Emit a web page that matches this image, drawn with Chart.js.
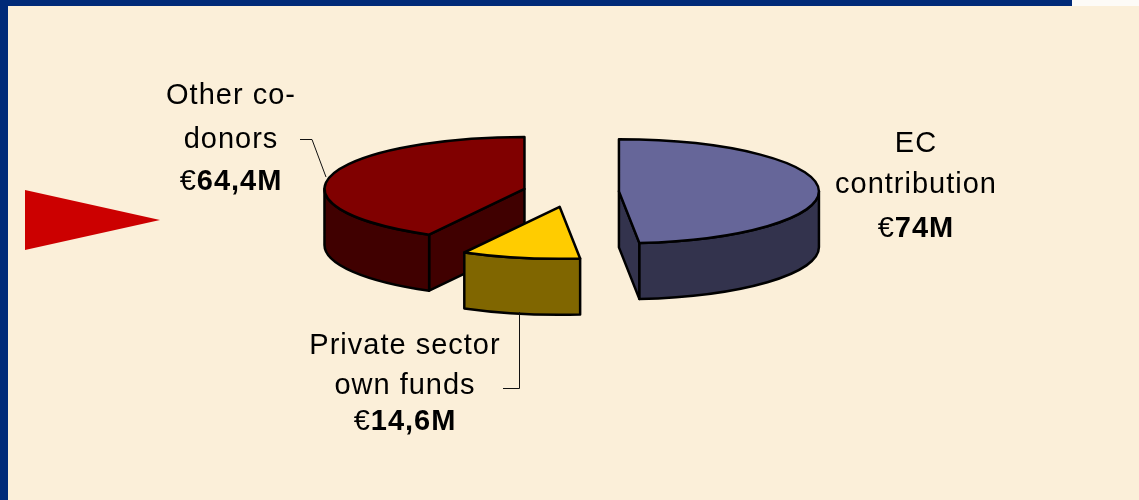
<!DOCTYPE html>
<html>
<head>
<meta charset="utf-8">
<script src="https://cdn.jsdelivr.net/npm/chart.js@4.4.1/dist/chart.umd.min.js"></script>
<style>
html, body { margin: 0; padding: 0; background: #fbefd9; }
canvas { display: block; }
</style>
</head>
<body>
<canvas id="pie" width="1139" height="500"></canvas>
<script>
// data, in Excel's order (clockwise from 12 o'clock)
var labels = ['EC contribution', 'Private sector own funds', 'Other co-donors'];
var values = [74, 14.6, 64.4];
var valueText = ['74M', '14,6M', '64,4M'];
var labelLines = [['EC', 'contribution'], ['Private sector', 'own funds'], ['Other co-', 'donors']];

var topColors = ['#666699', '#ffcc00', '#800000'];
var sideColors = ['#33334d', '#806600', '#400000'];

var tilt = 0.26;   // vertical squash of the pie
var depth = 56;    // thickness of the pie

// where the data labels sit (Excel placed them by hand)
var labelLayout = [
    {x: 916, y: [152, 193, 237]},
    {x: 405, y: [354, 394, 430]},
    {x: 231, y: [104, 148, 190]}
];
var leaderLines = [
    null,
    [[503, 388.5], [519.5, 388.5], [519.5, 312]],
    [[300, 139.5], [312, 139.5], [326, 177]]
];

function ept(s, a, dy) {
    return [s.cx + s.r * Math.cos(a), s.cy + (dy || 0) + s.r * tilt * Math.sin(a)];
}

function radialFace(ctx, s, a, color) {
    var p = ept(s, a), q = ept(s, a, depth);
    ctx.beginPath();
    ctx.moveTo(s.cx, s.cy);
    ctx.lineTo(p[0], p[1]);
    ctx.lineTo(q[0], q[1]);
    ctx.lineTo(s.cx, s.cy + depth);
    ctx.closePath();
    ctx.fillStyle = color;
    ctx.fill();
    ctx.stroke();
}

function outerWall(ctx, s, color) {
    // only the front half of the rim can be seen
    var b0 = Math.max(s.a0, 0), b1 = Math.min(s.a1, Math.PI);
    if (b1 <= b0) return;
    ctx.beginPath();
    ctx.ellipse(s.cx, s.cy, s.r, s.r * tilt, 0, b0, b1);
    ctx.ellipse(s.cx, s.cy + depth, s.r, s.r * tilt, 0, b1, b0, true);
    ctx.closePath();
    ctx.fillStyle = color;
    ctx.fill();
    ctx.stroke();
}

function topFace(ctx, s, color) {
    ctx.beginPath();
    ctx.moveTo(s.cx, s.cy);
    ctx.ellipse(s.cx, s.cy, s.r, s.r * tilt, 0, s.a0, s.a1);
    ctx.closePath();
    ctx.fillStyle = color;
    ctx.fill();
    ctx.stroke();
}

const backdrop = {
    id: 'backdrop',
    beforeDraw(chart) {
        const ctx = chart.ctx;
        ctx.save();
        ctx.fillStyle = '#fbefd9';
        ctx.fillRect(0, 0, chart.width, chart.height);
        ctx.fillStyle = '#fdfbf7';
        ctx.fillRect(1072, 0, chart.width - 1072, 6);
        ctx.fillStyle = '#002a78';
        ctx.fillRect(0, 0, 1072, 6);
        ctx.fillRect(0, 0, 8, chart.height);
        // red pointer on the left
        ctx.fillStyle = '#cc0000';
        ctx.beginPath();
        ctx.moveTo(25, 190);
        ctx.lineTo(160, 220);
        ctx.lineTo(25, 250);
        ctx.closePath();
        ctx.fill();
        ctx.restore();
    }
};

const pie3d = {
    id: 'pie3d',
    beforeDatasetsDraw(chart) {
        const ctx = chart.ctx;
        const meta = chart.getDatasetMeta(0);
        var slices = meta.data.map(function (arc, i) {
            var mid = (arc.startAngle + arc.endAngle) / 2;
            var d = arc.options.offset || 0;
            return {
                i: i, a0: arc.startAngle, a1: arc.endAngle, r: arc.outerRadius,
                cx: arc.x + Math.cos(mid) * d,
                cy: arc.y + Math.sin(mid) * d * tilt
            };
        });
        // back slices first
        slices.sort(function (p, q) { return p.cy - q.cy; });
        ctx.save();
        ctx.lineWidth = 2.5;
        ctx.strokeStyle = '#000';
        ctx.lineJoin = 'round';
        slices.forEach(function (s) {
            if (Math.cos(s.a0) < -0.01) radialFace(ctx, s, s.a0, sideColors[s.i]);
            if (Math.cos(s.a1) > 0.01) radialFace(ctx, s, s.a1, sideColors[s.i]);
            outerWall(ctx, s, sideColors[s.i]);
            topFace(ctx, s, topColors[s.i]);
        });
        ctx.restore();
        return false;
    },
    afterDraw(chart) {
        const ctx = chart.ctx;
        ctx.save();
        ctx.fillStyle = '#000';
        ctx.textBaseline = 'alphabetic';
        ctx.letterSpacing = '1px';
        labelLines.forEach(function (lines, i) {
            var pos = labelLayout[i];
            ctx.font = '29px "Liberation Sans", Arial, sans-serif';
            ctx.textAlign = 'center';
            lines.forEach(function (t, j) {
                ctx.fillText(t, pos.x, pos.y[j]);
            });
            // value line: regular euro sign, bold number
            ctx.textAlign = 'left';
            var euroFont = '29px "Liberation Sans", Arial, sans-serif';
            var boldFont = 'bold 29px "Liberation Sans", Arial, sans-serif';
            ctx.font = euroFont;
            var w1 = ctx.measureText('€').width;
            ctx.font = boldFont;
            var w2 = ctx.measureText(valueText[i]).width;
            var x0 = pos.x - (w1 + w2) / 2;
            ctx.font = euroFont;
            ctx.fillText('€', x0, pos.y[lines.length]);
            ctx.font = boldFont;
            ctx.fillText(valueText[i], x0 + w1, pos.y[lines.length]);
        });
        // leader lines
        ctx.strokeStyle = '#111';
        ctx.lineWidth = 1;
        leaderLines.forEach(function (pts) {
            if (!pts) return;
            ctx.beginPath();
            ctx.moveTo(pts[0][0], pts[0][1]);
            for (var k = 1; k < pts.length; k++) ctx.lineTo(pts[k][0], pts[k][1]);
            ctx.stroke();
        });
        ctx.restore();
    }
};

var ctx = document.getElementById('pie').getContext('2d');
window.PieChart = new Chart(ctx, {
    type: 'pie',
    data: {
        labels: labels,
        datasets: [{
            data: values,
            backgroundColor: topColors,
            offset: [48, 58, 48],
            borderWidth: 0
        }]
    },
    options: {
        responsive: false,
        animation: false,
        radius: 200,
        layout: {
            padding: {left: 3, right: 0, top: 0, bottom: 116}
        },
        plugins: {
            legend: {display: false},
            tooltip: {enabled: false}
        }
    },
    plugins: [backdrop, pie3d]
});
</script>
</body>
</html>
